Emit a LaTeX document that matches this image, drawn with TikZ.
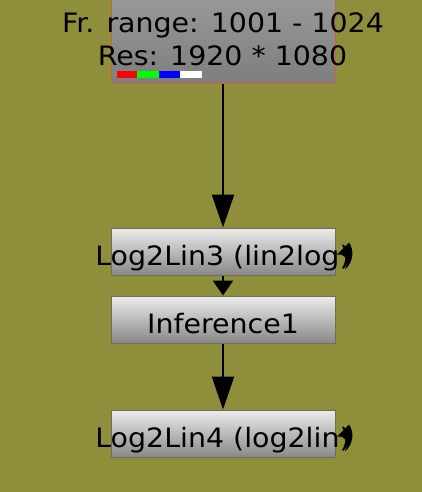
\documentclass[tikz,border=0pt]{standalone}
\usepackage{fontspec}
\setmainfont{DejaVu Sans}
\newfontfamily\nukefont[FakeStretch=1.065]{DejaVu Sans}
\usepackage{tikz}
\usetikzlibrary{arrows.meta}
\definecolor{olivebg}{HTML}{8F8F3B}
\definecolor{readedge}{HTML}{C8643A}
\definecolor{nodeedge}{HTML}{6E6E5E}
\definecolor{readtop}{HTML}{A4A4A4}
\definecolor{readbot}{HTML}{7E7E7E}
\definecolor{nodetop}{HTML}{ECECEC}
\definecolor{nodebot}{HTML}{888888}
\newcommand\nodelabel[1]{\raisebox{-13.5pt}[0pt][0pt]{\makebox[0pt]{#1}}}
\tikzset{
  nukebox/.style={draw=nodeedge,line width=1pt,top color=nodetop,
    bottom color=nodebot,minimum width=224pt,minimum height=47pt,
    inner sep=0pt,font=\nukefont\fontsize{26.7}{33.4}\selectfont},
  readbox/.style={nukebox,draw=readedge,top color=readtop,bottom color=readbot},
  wire/.style={-{Triangle[length=33pt,width=22pt]},line width=2.5pt},
  infotext/.style={inner sep=0pt,anchor=base,font=\nukefont\fontsize{26.7}{33.4}\selectfont}
}

\begin{document}
\begin{tikzpicture}[x=1pt,y=-1pt]
  \fill[olivebg] (0,0) rectangle (422,492);
  \useasboundingbox (0,0) rectangle (422,492);

  \node[readbox,minimum height=124pt,anchor=south] (read) at (223,84) {};
  \node[infotext] (frange) at (223,32.3) {Fr. range: 1001 - 1024};
  \node[infotext] (res) at (222.5,65.7) {Res: 1920 * 1080};
  % channel swatches
  \fill[red] (117,71) rectangle (137,78);
  \fill[green] (137,71) rectangle (159,78);
  \fill[blue] (159,71) rectangle (180,78);
  \fill[white] (180,71) rectangle (202,78);

  \node[nukebox] (log2lin3) at (223,251.5) {\nodelabel{Log2Lin3 (lin2log)}};
  \node[nukebox] (inference) at (223,319.5) {\nodelabel{Inference1}};
  \node[nukebox] (log2lin4) at (223,433.5) {\nodelabel{Log2Lin4 (log2lin)}};

  % clone markers
  \foreach \y in {251.5,433.5}
    \fill (349,\y-9) -- (337,\y+3) .. controls (343,\y+2) and (350,\y+6) .. (345,\y+18)
      .. controls (354,\y+10) and (354,\y-2) .. cycle;

  \draw[wire] (read.south) -- (log2lin3.north);
  \draw[wire,-{Triangle[length=15pt,width=20pt]}] (log2lin3.south) -- (inference.north);
  \draw[wire] (inference.south) -- (log2lin4.north);
\end{tikzpicture}
\end{document}
